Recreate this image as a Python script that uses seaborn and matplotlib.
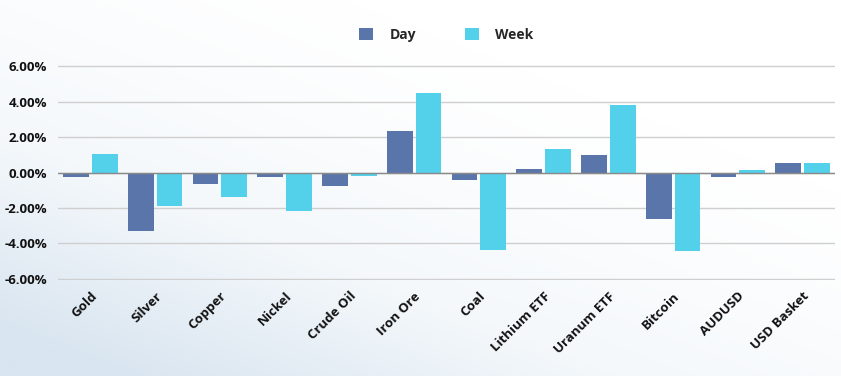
import numpy as np
import pandas as pd
import matplotlib
matplotlib.use("Agg")
import matplotlib.pyplot as plt
import seaborn as sns
from matplotlib.colors import LinearSegmentedColormap
from matplotlib.ticker import FuncFormatter

categories = ["Gold", "Silver", "Copper", "Nickel", "Crude Oil", "Iron Ore",
              "Coal", "Lithium ETF", "Uranum ETF", "Bitcoin", "AUDUSD", "USD Basket"]
day = [-0.24, -3.30, -0.66, -0.24, -0.75, 2.33, -0.41, 0.19, 0.96, -2.61, -0.24, 0.54]
week = [1.07, -1.88, -1.37, -2.19, -0.20, 4.50, -4.35, 1.33, 3.81, -4.45, 0.13, 0.51]

df = pd.DataFrame({"Asset": categories * 2,
                   "Change": day + week,
                   "Period": ["Day"] * len(day) + ["Week"] * len(week)})

sns.set_theme(style="white")
plt.rcParams["font.family"] = ["Open Sans", "DejaVu Sans"]

fig = plt.figure(figsize=(8.41, 3.76), dpi=100)
fig.patch.set_facecolor("white")

# soft background gradient, bluish toward bottom-left
bg = fig.add_axes([0, 0, 1, 1], zorder=-10)
yy, xx = np.mgrid[0:1:200j, 0:1:400j]
shade = np.clip(yy * 0.8 + (1 - xx) * 0.7 - 0.4, 0, 1) ** 1.3
cmap = LinearSegmentedColormap.from_list("bgc", ["#ffffff", "#f4f8fb", "#d9e5f0"])
bg.imshow(shade, cmap=cmap, vmin=0, vmax=1,
          aspect="auto", extent=[0, 1, 0, 1], origin="upper")
bg.axis("off")

ax = fig.add_axes([58 / 841, 1 - 280 / 376, (835 - 58) / 841, (280 - 65) / 376])
ax.patch.set_alpha(0)

sns.barplot(data=df, x="Asset", y="Change", hue="Period",
            palette={"Day": "#5a75a9", "Week": "#53d0ea"}, saturation=1,
            width=0.89, gap=0.1, linewidth=0, ax=ax, legend=True)

ax.set_xlim(-0.5, len(categories) - 0.5)
ax.set_ylim(-6.06, 6.06)
ax.set_yticks(np.arange(-6, 7, 2))
ax.yaxis.set_major_formatter(FuncFormatter(lambda v, p: f"{v:.2f}%"))
ax.grid(axis="y", color="#cfcfcf", linewidth=1)
ax.set_axisbelow(True)
ax.axhline(0, color="#8a8a8a", linewidth=1, zorder=1)
for s in ax.spines.values():
    s.set_visible(False)
ax.set_xlabel("")
ax.set_ylabel("")
ax.tick_params(axis="both", length=0)
ax.tick_params(axis="y", pad=8)
ax.tick_params(axis="x", pad=7)
for lab in ax.get_yticklabels():
    lab.set_fontweight("bold")
    lab.set_fontsize(9.5)
    lab.set_color("#111111")
for lab in ax.get_xticklabels():
    lab.set_rotation(45)
    lab.set_ha("right")
    lab.set_rotation_mode("anchor")
    lab.set_fontweight("bold")
    lab.set_fontsize(9.5)
    lab.set_color("#111111")

ax.legend(title=None, loc="lower center", bbox_to_anchor=(0.5, 1.05), ncol=2,
          frameon=False, handlelength=1.0, handleheight=1.0, columnspacing=3.5,
          handletextpad=1.2, prop={"weight": "bold", "size": 10})

fig.savefig("out.png", dpi=100, facecolor="white")
